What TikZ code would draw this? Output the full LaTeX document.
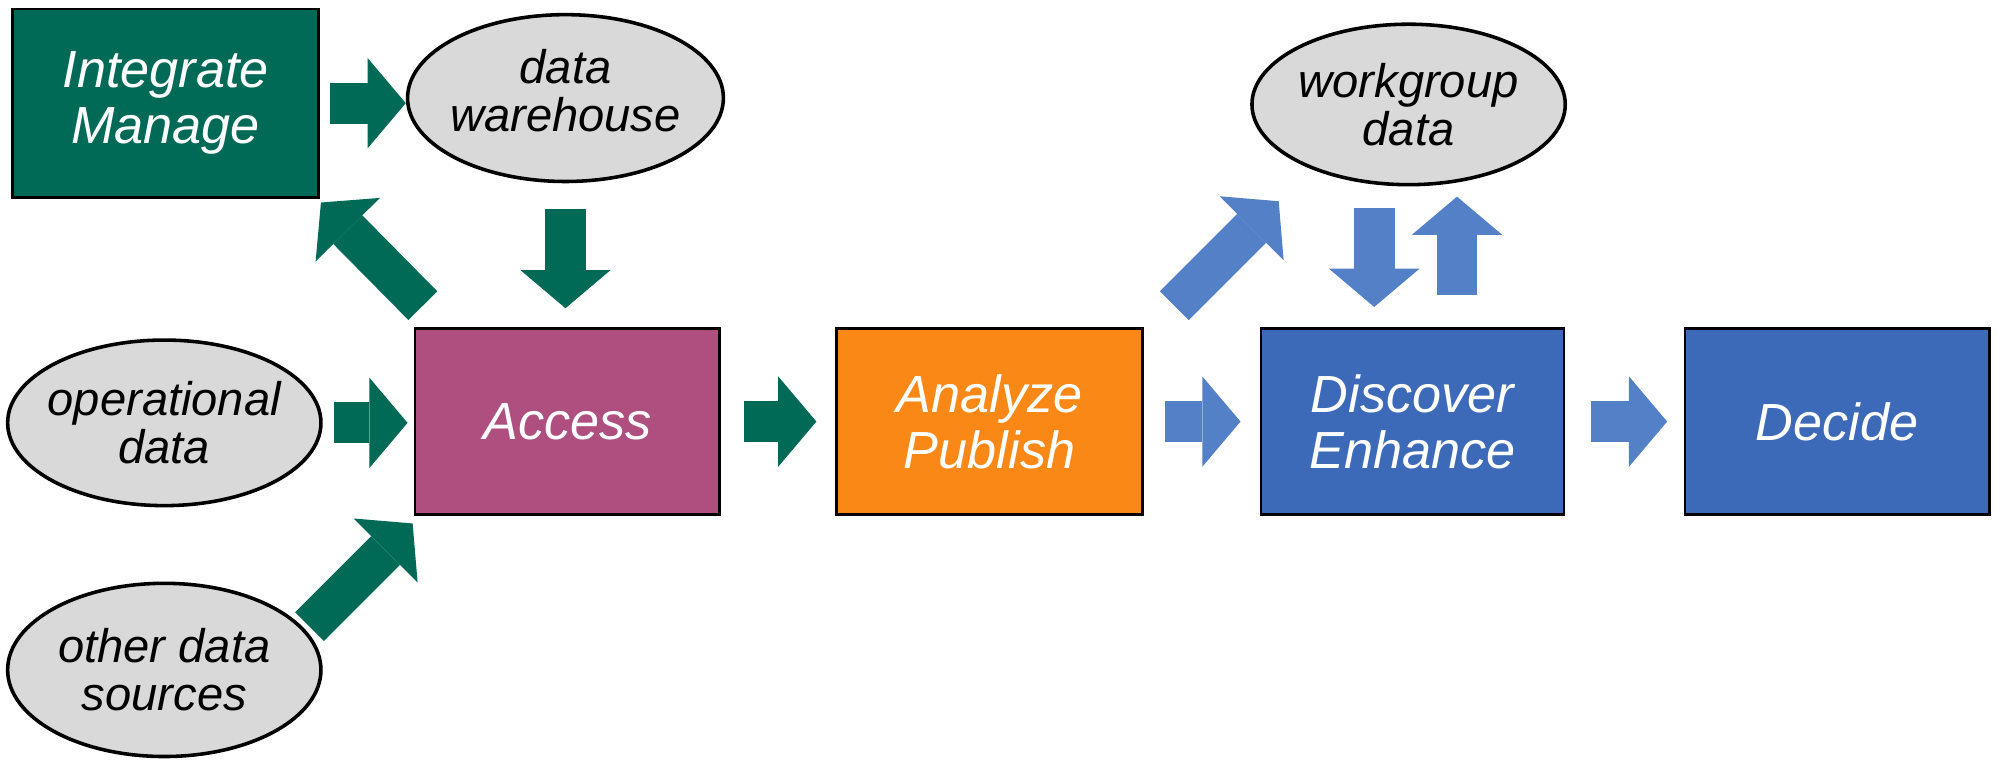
\documentclass[tikz,border=0pt]{standalone}
\usepackage{fontspec}
\setmainfont{Liberation Sans}
\usepackage{tikz}
\usetikzlibrary{arrows.meta}
\usetikzlibrary{calc}
\usetikzlibrary{shapes.geometric}
\usetikzlibrary{positioning}
\definecolor{grn}{HTML}{006A56}
\definecolor{mag}{HTML}{AE4F80}
\definecolor{org}{HTML}{F98817}
\definecolor{blu}{HTML}{3C6AB9}
\definecolor{lblu}{HTML}{5380C7}
\definecolor{ellgray}{HTML}{D9D9D9}
\newcommand\boxtext{\fontsize{41}{44}\selectfont\itshape}
\newcommand\storetext{\fontsize{37}{38}\selectfont\itshape}
\newcommand\storelines[2]{\makebox[0pt]{#1}\\\makebox[0pt]{#2}}
\tikzset{
  stage/.style={rectangle, draw=black, line width=2pt, minimum width=239pt,
    minimum height=146pt, inner sep=0pt, align=center, text=white, font=\boxtext},
  store/.style={ellipse, draw=black, line width=2.8pt, fill=ellgray,
    minimum width=246pt, minimum height=130pt, inner sep=0pt, align=center, font=\storetext},
  blockarrow/.style={line width=32pt, -{Triangle[length=30pt,width=71pt,line width=0pt]}},
  garrow/.style={blockarrow, draw=grn},
  barrow/.style={blockarrow, draw=lblu}
}

\begin{document}
\begin{tikzpicture}[x=1pt,y=-1pt]
  %
  \useasboundingbox (0,0) rectangle (1568,597);

  \node[stage, fill=grn, minimum width=240pt, minimum height=148pt] (integ) at (130,81) {Integrate\\Manage};
  \node[store, minimum width=248pt, minimum height=131pt, text depth=12pt] (wh) at (444,77) {\storelines{data}{warehouse}};
  \node[store] (opd) at (129,332) {\storelines{operational}{data}};
  \node[store, minimum height=136pt] (other) at (129,526) {\storelines{other data}{sources}};
  \node[store, minimum height=126pt] (wg) at (1106,82) {\storelines{workgroup}{data}};

  \node[stage, fill=mag] (access) at (445.5,331) {Access};
  \node[stage, fill=org, minimum width=240pt] (analyze) at (777,331) {Analyze\\Publish};
  \node[stage, fill=blu, minimum width=238pt] (disc) at (1109,331) {Discover\\Enhance};
  \node[stage, fill=blu] (decide) at (1442.5,331) {Decide};

  % green arrows
  \draw[garrow, shorten <=8pt] (integ.east) -- (integ.east -| wh.west);
  \draw[garrow, shorten <=20pt, shorten >=15pt] (wh.south) -- (wh.south |- access.north);
  \draw[garrow] ($(access.north west)+(7,-17)$) -- ($(integ.south east)+(1,3)$);
  \draw[garrow, shorten <=9pt, shorten >=5pt] (opd.east) -- (opd.east -| access.west);
  \draw[garrow] ($(other)+(114,-34)$) -- ($(access.south west)+(-1,6)$);
  \draw[garrow, shorten <=18pt, shorten >=15pt] (access.east) -- (analyze.west);

  % blue arrows
  \draw[barrow, shorten <=17pt, shorten >=15pt] (analyze.east) -- (disc.west);
  \draw[barrow, shorten <=20pt, shorten >=13pt] (disc.east) -- (decide.west);
  \draw[barrow] ($(disc.north west)+(-67,-17)$) -- ($(disc.north west)+(15,-99)$);
  \coordinate (wgin) at ([xshift=-30pt]disc.north);
  \coordinate (wgout) at ([xshift=35pt]disc.north);
  \draw[barrow, shorten <=17pt, shorten >=16pt] (wgin |- wg.south) -- (wgin);
  \draw[barrow, shorten <=25pt, shorten >=8pt] (wgout) -- (wgout |- wg.south);

\end{tikzpicture}
\end{document}
